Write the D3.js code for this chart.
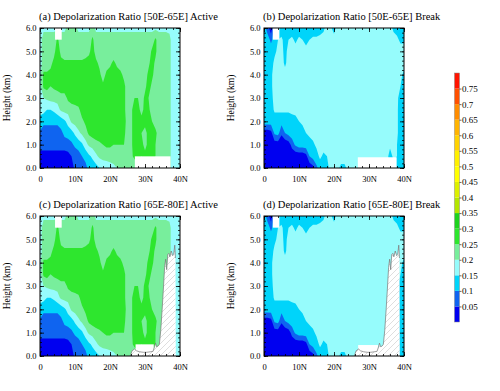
<!DOCTYPE html>
<html><head><meta charset="utf-8">
<script src="https://cdn.jsdelivr.net/npm/d3@7/dist/d3.min.js"></script>
<style>
html,body{margin:0;padding:0;background:#fff;}
svg{display:block;}
svg text{font-family:"Liberation Serif","DejaVu Serif","Times New Roman",serif !important;}
</style></head>
<body>
<svg id="chart" width="500" height="391"></svg>
<script>
// ================= DATA =================
const latitudes = [0,1,2,3,4,5,6,7,8,9,10,11,12,13,14,15,16,17,18,19,20,21,22,23,24,25,26,27,28,29,30,31,32,33,34,35,36,37,38,39,40];
const heights = [0,0.5,1,1.5,2,2.5,3,3.5,4,4.5,5,5.5,6];
const levels = [0.05,0.1,0.15,0.2,0.25,0.3,0.35,0.4,0.45,0.5,0.55,0.6,0.65,0.7,0.75];
const levelColors = ["#0000f0","#0f64f0","#00d4fa","#96fcfc","#78ee9c","#2ee62e","#1ed21e",
  "#b4e600","#dcf000","#ffff00","#fff000","#ffd200","#ffb400","#ff8c00","#ff5000","#ff1400"];
const xTickValues = [0,10,20,30,40];
const xTickLabels = ["0","10N","20N","30N","40N"];
const xMinorTicks = [0,2,4,6,8,10,12,14,16,18,20,22,24,26,28,30,32,34,36,38,40];
const yTickValues = [0,1,2,3,4,5,6];
const yTickLabels = ["0.0","1.0","2.0","3.0","4.0","5.0","6.0"];
const yMinorTicks = d3.range(0, 6.001, 0.2);

// depolarization ratio x100 ; one row per height (0 km .. 6 km), one column per latitude (0..40N)
const ratioActive = [
 [4,2,2,2,2,2,2,2,2,3,6,7,7,9,11,12,13,15,16,17,18,19,20,21,22,22,22,22,23,23,23,23,22,22,22,22,22,21,18,17,17],
 [3,2,2,2,2,2,2,2,3,5,7,8,10,11,14,16,19,21,22,22,22,22,22,22,23,23,24,26,27,25,26,27,27,25,23,22,22,21,18,17,17],
 [7,8,8,8,8,8,8,8,8,9,11,12,14,18,21,22,23,24,25,26,26,25,25,25,25,23,24,27,27,26,24,26,27,25,23,22,22,21,18,17,17],
 [9,8,8,8,8,8,9,11,12,13,16,19,21,23,26,27,28,28,28,28,28,28,28,28,26,23,24,27,27,25,24,26,27,26,23,22,22,21,18,17,17],
 [14,11,11,11,11,11,12,14,17,21,22,23,24,26,28,28,28,28,28,28,28,28,28,28,27,23,24,27,27,26,26,26,25,23,22,22,22,21,18,17,17],
 [16,17,15,15,16,18,21,22,22,23,23,24,27,28,28,28,28,28,28,28,28,28,28,28,26,23,24,27,26,24,26,26,23,22,22,22,22,21,18,17,17],
 [17,20,21,22,22,22,23,23,26,27,28,28,28,28,28,28,28,28,28,28,28,28,28,28,26,23,23,25,25,23,26,25,22,22,22,22,22,21,18,17,17],
 [18,26,27,25,26,27,28,28,28,28,28,28,28,28,28,28,28,28,26,28,28,28,28,28,26,23,22,22,22,22,24,27,24,22,22,22,22,21,18,17,17],
 [18,26,26,26,27,28,28,28,28,28,28,28,28,28,28,28,28,26,23,26,27,28,27,26,24,22,22,22,22,22,23,26,26,23,22,22,22,21,18,17,17],
 [18,22,22,24,26,27,26,26,26,26,26,26,26,27,27,28,26,24,22,23,24,26,24,23,22,22,22,22,22,22,22,24,27,24,22,22,22,21,18,17,17],
 [18,22,22,22,24,27,24,22,22,22,22,22,22,22,24,27,23,22,22,22,22,22,22,22,22,22,22,22,22,22,22,22,26,26,22,22,22,21,18,17,17],
 [18,22,22,22,22,26,22,22,22,22,22,22,22,22,22,26,22,22,22,22,22,22,22,22,22,22,22,22,22,22,22,22,22,26,22,22,22,21,18,17,17],
 [17,19,19,19,19,19,19,19,21,21,21,19,19,19,19,22,19,19,19,19,19,19,19,19,19,19,19,19,19,19,19,19,19,19,19,19,19,19,17,17,17]
];
const ratioBreak = [
 [1,1,1,1,1,1,1,1,1,1,1,1,1,1,3,9,12,12,14,16,17,16,14,14,16,15,16,17,17,17,17,17,17,17,17,17,15,13,14,12,12],
 [1,1,1,1,1,1,1,1,1,1,1,1,3,10,12,13,16,14,15,16,17,17,17,17,17,17,17,17,17,17,17,17,17,17,17,17,13,16,15,12,12],
 [1,1,1,2,2,1,1,2,7,11,13,13,13,13,14,16,17,17,17,17,17,17,17,17,17,17,17,17,17,17,17,17,17,17,17,17,16,17,15,12,12],
 [2,2,3,11,12,6,10,12,13,13,13,13,15,16,17,17,17,17,17,17,17,17,17,17,17,17,17,17,17,17,17,17,17,17,17,17,17,17,16,12,12],
 [13,13,13,12,12,12,12,12,12,13,15,16,17,17,17,17,17,17,17,17,17,17,17,17,17,17,17,17,17,17,17,17,17,17,17,17,17,17,16,12,12],
 [12,12,12,16,16,16,16,16,17,17,17,17,17,17,17,17,17,17,17,17,17,17,17,17,17,17,17,17,17,17,17,17,17,17,17,17,17,17,16,12,12],
 [12,12,13,17,17,17,17,17,17,17,17,17,17,17,17,17,17,17,17,17,17,17,17,17,17,17,17,17,17,17,17,17,17,17,17,17,17,17,16,13,12],
 [12,12,14,17,17,17,17,17,17,17,17,17,17,17,17,17,17,17,17,17,17,17,17,17,17,17,17,17,17,17,17,17,17,17,17,17,17,17,17,15,13],
 [12,12,14,17,17,17,17,17,17,17,17,17,17,17,17,17,17,17,17,17,17,17,17,17,17,17,17,17,17,17,17,17,17,17,17,17,17,17,17,16,14],
 [12,12,13,16,17,17,14,17,17,17,17,17,17,17,17,17,17,17,17,17,17,17,17,17,17,17,17,17,17,17,17,17,17,17,17,17,17,17,17,17,17],
 [12,12,12,14,16,17,13,17,17,17,17,17,17,17,17,17,17,17,17,17,17,17,17,17,17,17,17,17,17,17,17,17,17,17,17,17,17,17,17,17,17],
 [12,12,9,12,15,16,13,15,16,14,16,15,13,15,16,16,17,17,17,17,17,17,17,17,17,17,17,17,17,17,17,17,17,17,17,17,17,17,16,14,14],
 [12,8,1,12,12,12,12,12,12,12,12,12,12,12,12,12,12,14,17,16,13,17,17,17,17,17,17,17,17,17,17,17,17,17,17,17,17,14,13,12,12]
];
// missing-data boxes: [lat from, lat to, height from, height to]
const missingA = [[4.3,6.2,5.5,6.0],[27.1,37.3,0,0.5]];
const missingB = [[2.5,4.4,5.5,6.0],[26.8,37.9,0,0.46]];
const missingC = [[4.3,6.2,5.5,6.0],[27.3,32.5,0,0.5]];
const missingD = [[2.5,4.4,5.5,6.0],[26.9,32.6,0,0.47]];
// terrain profile (latitude, height km)
const terrainLat    = [25.8,26.3,27.0,27.6,28.5,29.5,30.5,31.5,32.3,32.7,33.0,33.3,33.7,34.1,34.5,34.9,35.3,35.6,35.9,36.2,36.5,36.8,37.1,37.5,37.9,38.2,38.5,38.7,38.8];
const terrainHeight = [0.0,0.22,0.3,0.22,0.18,0.16,0.16,0.18,0.2,0.38,0.55,0.4,0.42,0.5,1.1,2.0,3.0,3.8,4.15,3.7,4.35,4.4,4.25,4.5,4.3,4.35,4.75,4.2,0.0];
const titles = ["(a) Depolarization Ratio [50E-65E] Active","(b) Depolarization Ratio [50E-65E] Break",
                "(c) Depolarization Ratio [65E-80E] Active","(d) Depolarization Ratio [65E-80E] Break"];

// ================= DRAW =================
const svg = d3.select("#chart");
const defs = svg.append("defs");
const pat = defs.append("pattern").attr("id","hatch").attr("patternUnits","userSpaceOnUse")
  .attr("width",6).attr("height",6);
pat.append("path").attr("d","M-1,1 L1,-1 M0,6 L6,0 M5,7 L7,5")
  .attr("stroke","#c8c8c8").attr("stroke-width",0.6).attr("fill","none");

const serif = '"Liberation Serif","DejaVu Serif",serif';
const W = 140, H = 140;
const panels = [
  {title:titles[0], grid:ratioActive, missing:missingA, terrain:false, left:40,  top:28},
  {title:titles[1], grid:ratioBreak,  missing:missingB, terrain:false, left:264, top:28},
  {title:titles[2], grid:ratioActive, missing:missingC, terrain:true,  left:40,  top:216},
  {title:titles[3], grid:ratioBreak,  missing:missingD, terrain:true,  left:264, top:216}
];
const nx = latitudes.length, ny = heights.length;
const dLat = latitudes[1]-latitudes[0], dH = heights[1]-heights[0];

function styleAxis(sel){
  sel.select(".domain").remove();
  sel.attr("font-family", null).attr("font-size", null);
  sel.style("font-family", serif).style("font-size", "8.5px");
  sel.selectAll("text").attr("fill","#000");
  sel.selectAll("line").attr("stroke","#000").attr("stroke-width",0.8);
}

panels.forEach((p, pi) => {
  const x = d3.scaleLinear().domain([0,40]).range([p.left, p.left+W]);
  const y = d3.scaleLinear().domain([0,6]).range([p.top+H, p.top]);
  const cid = "clip"+pi;
  defs.append("clipPath").attr("id",cid).append("rect")
    .attr("x",p.left).attr("y",p.top).attr("width",W).attr("height",H);
  const g = svg.append("g").attr("clip-path",`url(#${cid})`);

  const values = p.grid.flat().map(v => v/100);
  const contours = d3.contours().size([nx,ny]).thresholds(levels)(values);
  const proj = d3.geoTransform({point(px,py){
    this.stream.point(x(latitudes[0]+(px-0.5)*dLat), y(heights[0]+(py-0.5)*dH));
  }});
  const path = d3.geoPath(proj);

  g.append("rect").attr("x",p.left).attr("y",p.top).attr("width",W).attr("height",H)
    .attr("fill",levelColors[0]);
  g.selectAll("path.cf").data(contours).join("path").attr("class","cf")
    .attr("d",path).attr("fill",(d,i)=>levelColors[i+1]);

  g.selectAll("rect.miss").data(p.missing).join("rect").attr("class","miss")
    .attr("x",d=>x(d[0])).attr("width",d=>x(d[1])-x(d[0]))
    .attr("y",d=>y(d[3])).attr("height",d=>y(d[2])-y(d[3]))
    .attr("fill","#fff");

  if (p.terrain) {
    const pts = terrainLat.map((d,i)=>[x(d), y(terrainHeight[i])]);
    const poly = d3.line()(pts) + "Z";
    g.append("path").attr("d",poly).attr("fill","#fff");
    g.append("path").attr("d",poly).attr("fill","url(#hatch)");
    g.append("path").attr("d",d3.line()(pts.slice(0,-1))).attr("fill","none")
      .attr("stroke","#777").attr("stroke-width",0.7);
  }

  // axes (ticks pointing inward)
  svg.append("g").attr("transform",`translate(0,${p.top+H})`)
    .call(d3.axisBottom(x).tickValues(xTickValues).tickFormat(d=>xTickLabels[xTickValues.indexOf(d)])
      .tickSize(-4).tickPadding(8)).call(styleAxis);
  svg.append("g").attr("transform",`translate(0,${p.top+H})`)
    .call(d3.axisBottom(x).tickValues(xMinorTicks).tickFormat("").tickSize(-2)).call(styleAxis);
  svg.append("g").attr("transform",`translate(0,${p.top})`)
    .call(d3.axisTop(x).tickValues(xTickValues).tickFormat("").tickSize(-4)).call(styleAxis);
  svg.append("g").attr("transform",`translate(0,${p.top})`)
    .call(d3.axisTop(x).tickValues(xMinorTicks).tickFormat("").tickSize(-2)).call(styleAxis);
  svg.append("g").attr("transform",`translate(${p.left},0)`)
    .call(d3.axisLeft(y).tickValues(yTickValues).tickFormat(d=>yTickLabels[yTickValues.indexOf(d)])
      .tickSize(-4).tickPadding(3.5)).call(styleAxis);
  svg.append("g").attr("transform",`translate(${p.left},0)`)
    .call(d3.axisLeft(y).tickValues(yMinorTicks).tickFormat("").tickSize(-2)).call(styleAxis);
  svg.append("g").attr("transform",`translate(${p.left+W},0)`)
    .call(d3.axisRight(y).tickValues(yTickValues).tickFormat("").tickSize(-4)).call(styleAxis);
  svg.append("g").attr("transform",`translate(${p.left+W},0)`)
    .call(d3.axisRight(y).tickValues(yMinorTicks).tickFormat("").tickSize(-2)).call(styleAxis);

  svg.append("rect").attr("x",p.left).attr("y",p.top).attr("width",W).attr("height",H)
    .attr("fill","none").attr("stroke","#000").attr("stroke-width",1);

  svg.append("text").attr("x",p.left-1).attr("y",p.top-8)
    .style("font-family",serif).style("font-size","10.5px").attr("fill","#000").text(p.title);
  svg.append("text").attr("transform",`translate(${p.left-30},${p.top+H/2}) rotate(-90)`)
    .attr("text-anchor","middle").style("font-family",serif).style("font-size","9.5px")
    .attr("fill","#000").text("Height (km)");
});

// ================= COLORBAR =================
const cbBounds = [0].concat(levels, [0.8]);
const cb = d3.scaleLinear().domain([0,0.8]).range([322,73]);
svg.selectAll("rect.cb").data(levelColors).join("rect").attr("class","cb")
  .attr("x",454.5).attr("width",5)
  .attr("y",(d,i)=>cb(cbBounds[i+1])).attr("height",(d,i)=>cb(cbBounds[i])-cb(cbBounds[i+1]))
  .attr("fill",d=>d);
svg.append("rect").attr("x",454.5).attr("y",73).attr("width",5).attr("height",249)
  .attr("fill","none").attr("stroke","#888").attr("stroke-width",0.5);
svg.append("g").attr("transform","translate(459.5,0)")
  .call(d3.axisRight(cb).tickValues(levels).tickFormat(d=>String(d)).tickSize(2).tickPadding(0.5))
  .call(g=>{ g.select(".domain").remove();
    g.attr("font-family",null).attr("font-size",null);
    g.style("font-family",serif).style("font-size","9px");
    g.selectAll("text").attr("fill","#000");
    g.selectAll("line").attr("stroke","#000").attr("stroke-width",0.6); });
</script>
</body></html>
